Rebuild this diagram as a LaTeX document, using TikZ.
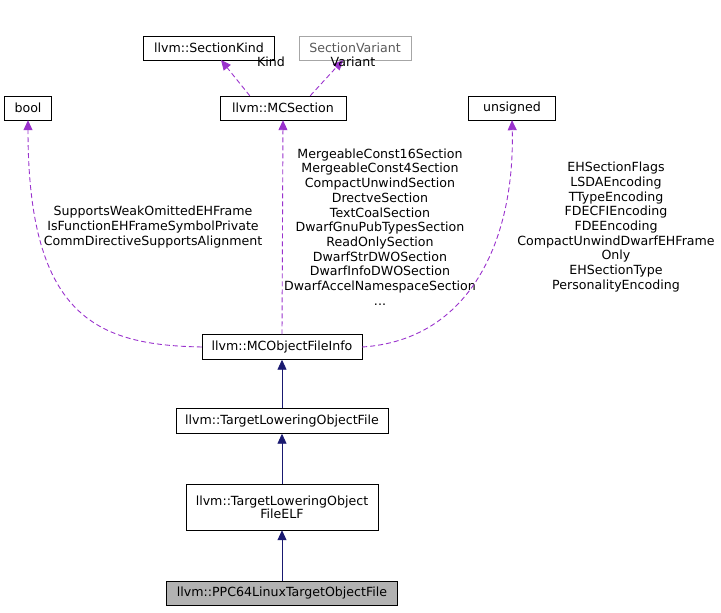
\documentclass[tikz,border=0pt]{standalone}
\usepackage{fontspec}
\setmainfont{DejaVu Sans}
\usetikzlibrary{arrows.meta}
\definecolor{dep}{HTML}{9A32CD}
\definecolor{inh}{HTML}{191970}
\begin{document}
\begin{tikzpicture}[x=1pt,y=-1pt,
  box/.style={draw=black,fill=white,inner sep=0pt,font=\fontsize{12.6}{13}\selectfont,align=center},
  dashdep/.style={draw=dep,line width=0.9pt,dash pattern=on 5pt off 3pt,-{Triangle[length=10pt,width=9pt,fill=dep]}},
  inhe/.style={draw=inh,line width=0.9pt,-{Triangle[length=10pt,width=9pt,fill=inh]}},
  lab/.style={font=\fontsize{12.6}{14.7}\selectfont,align=center,inner sep=0pt}]
\useasboundingbox (0,0) rectangle (721,613);
\node[box,minimum width=131,minimum height=24] (sk) at (209,48) {llvm::SectionKind};
\node[box,draw=gray!70,text=gray!70!black,minimum width=112,minimum height=24] (sv) at (355,48) {SectionVariant};
\node[box,minimum width=47,minimum height=24] (bool) at (28,108) {bool};
\node[box,minimum width=126,minimum height=24] (mcs) at (283,108) {llvm::MCSection};
\node[box,minimum width=87,minimum height=24] (uns) at (512,108) {unsigned};
\node[box,minimum width=160,minimum height=25] (mof) at (282,347) {llvm::MCObjectFileInfo};
\node[box,minimum width=212,minimum height=25] (tlo) at (282,421) {llvm::TargetLoweringObjectFile};
\node[box,minimum width=192,minimum height=46] (elf) at (282,507) {llvm::TargetLoweringObject\\FileELF};
\node[box,fill=gray!60,minimum width=231,minimum height=24] (ppc) at (282,593) {llvm::PPC64LinuxTargetObjectFile};

\draw[dashdep] (mcs.north west)++(30,0) coordinate (k1) -- (221,60);
\draw[dashdep] (mcs.north east)++(-36,0) coordinate (k2) -- (343,60);
\node[lab] (lk) at (271,62) {Kind};
\node[lab] (lv) at (353,62) {Variant};

\draw[dashdep] (mof.west) .. controls (100,345) and (28,320) .. (bool.south);
\node[lab] (lb) at (153,227) {SupportsWeakOmittedEHFrame\\IsFunctionEHFrameSymbolPrivate\\CommDirectiveSupportsAlignment};

\draw[dashdep] (mof.north) -- (mcs.south);
\node[lab] (lm) at (380,227) {MergeableConst16Section\\MergeableConst4Section\\CompactUnwindSection\\DrectveSection\\TextCoalSection\\DwarfGnuPubTypesSection\\ReadOnlySection\\DwarfStrDWOSection\\DwarfInfoDWOSection\\DwarfAccelNamespaceSection\\...};

\draw[dashdep] (mof.east) .. controls (470,340) and (515,240) .. (uns.south);
\node[lab] (lu) at (616,227) {EHSectionFlags\\LSDAEncoding\\TTypeEncoding\\FDECFIEncoding\\FDEEncoding\\CompactUnwindDwarfEHFrame\\Only\\EHSectionType\\PersonalityEncoding};

\draw[inhe] (tlo.north) -- (mof.south);
\draw[inhe] (elf.north) -- (tlo.south);
\draw[inhe] (ppc.north) -- (elf.south);
\end{tikzpicture}
\end{document}
